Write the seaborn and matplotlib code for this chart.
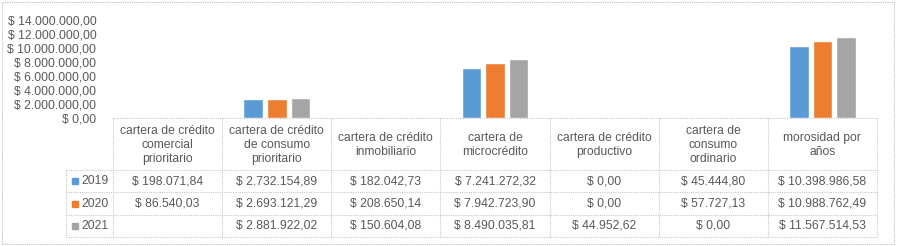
import numpy as np
import pandas as pd
import matplotlib
matplotlib.use("Agg")
import matplotlib.pyplot as plt
import seaborn as sns
from matplotlib.patches import Rectangle

categories = [
    "cartera de crédito\ncomercial\nprioritario",
    "cartera de crédito\nde consumo\nprioritario",
    "cartera de crédito\ninmobiliario",
    "cartera de\nmicrocrédito",
    "cartera de crédito\nproductivo",
    "cartera de\nconsumo\nordinario",
    "morosidad por\naños",
]
years = ["2019", "2020", "2021"]
v2019 = [198071.84, 2732154.89, 182042.73, 7241272.32, 0.00, 45444.80, 10398986.58]
v2020 = [86540.03, 2693121.29, 208650.14, 7942723.90, 0.00, 57727.13, 10988762.49]
v2021 = [np.nan, 2881922.02, 150604.08, 8490035.81, 44952.62, 0.00, 11567514.53]
yticks = [0, 2000000, 4000000, 6000000, 8000000, 10000000, 12000000, 14000000]
colors = ["#5B9BD5", "#ED7D31", "#A5A5A5"]

series = {"2019": v2019, "2020": v2020, "2021": v2021}
rows = []
for y in years:
    for c, v in zip(categories, series[y]):
        rows.append({"cat": c, "year": y, "value": v})
df = pd.DataFrame(rows)

def fmt(v):
    if v is None or (isinstance(v, float) and np.isnan(v)):
        return ""
    s = f"{v:,.2f}"
    s = s.replace(",", "X").replace(".", ",").replace("X", ".")
    return "$ " + s

sns.set_theme(style="white")
plt.rcParams["font.family"] = ["Liberation Sans", "DejaVu Sans"]
TXT = "#595959"
GRID = "#C8C8C8"
FS = 8.7

W, H = 897, 246
fig = plt.figure(figsize=(W / 100, H / 100), dpi=100)

x0, x1 = 113, 877
ytop, ybot = 20.5, 118
ax = fig.add_axes([x0 / W, 1 - ybot / H, (x1 - x0) / W, (ybot - ytop) / H])
sns.barplot(data=df, x="cat", y="value", hue="year", hue_order=years,
            palette=colors, order=categories, width=0.65, gap=0.17,
            legend=False, ax=ax, errorbar=None, saturation=1)
ax.set_xlim(-0.5, len(categories) - 0.5)
ax.set_ylim(0, 14000000)
ax.set_yticks(yticks)
ax.set_yticklabels([fmt(float(t)) for t in yticks], color=TXT, fontsize=FS)
ax.tick_params(axis="y", length=0, pad=12)
ax.set_xticks([])
ax.set_xlabel("")
ax.set_ylabel("")
for s in ax.spines.values():
    s.set_visible(False)
ax.patch.set_alpha(0)

# data table
t_top, t_hdr, t_bot = 118, 170, 237
row_h = (t_bot - t_hdr) / 3
tab = fig.add_axes([x0 / W, 1 - t_bot / H, (x1 - x0) / W, (t_bot - t_top) / H])
tab.set_xlim(-0.5, len(categories) - 0.5)
tab.set_ylim(t_bot, t_top)
tab.axis("off")
cw = (x1 - x0) / len(categories)
lab_left = -0.5 - (x0 - 66) / cw
lkw = dict(color=GRID, lw=0.8, ls=(0, (1, 1)), clip_on=False)

tab.plot([-0.5, len(categories) - 0.5], [t_top, t_top], **lkw)
for i in range(4):
    yy = t_hdr + i * row_h
    tab.plot([lab_left, len(categories) - 0.5], [yy, yy], **lkw)
for j in range(len(categories) + 1):
    tab.plot([j - 0.5, j - 0.5], [t_top, t_bot], **lkw)
tab.plot([lab_left, lab_left], [t_hdr, t_bot], **lkw)

for j, c in enumerate(categories):
    tab.text(j, (t_top + t_hdr) / 2 + 1, c, ha="center", va="center",
             fontsize=FS, color=TXT, linespacing=1.25)
for i, y in enumerate(years):
    yc = t_hdr + (i + 0.5) * row_h
    for j, v in enumerate(series[y]):
        tab.text(j, yc, fmt(v), ha="center", va="center", fontsize=FS, color=TXT)
    tab.add_patch(Rectangle((lab_left + 6 / cw, yc - 3), 6 / cw, 6,
                            color=colors[i], clip_on=False))
    tab.text(lab_left + 15 / cw, yc, y, ha="left", va="center",
             fontsize=FS, color=TXT, clip_on=False)

fig.add_artist(Rectangle((1.5 / W, 1 - 243.5 / H), 892 / W, 242 / H,
                         transform=fig.transFigure, fill=False,
                         ec="#BFBFBF", lw=0.8, ls=(0, (1, 1))))

fig.savefig("out.png", dpi=100)
